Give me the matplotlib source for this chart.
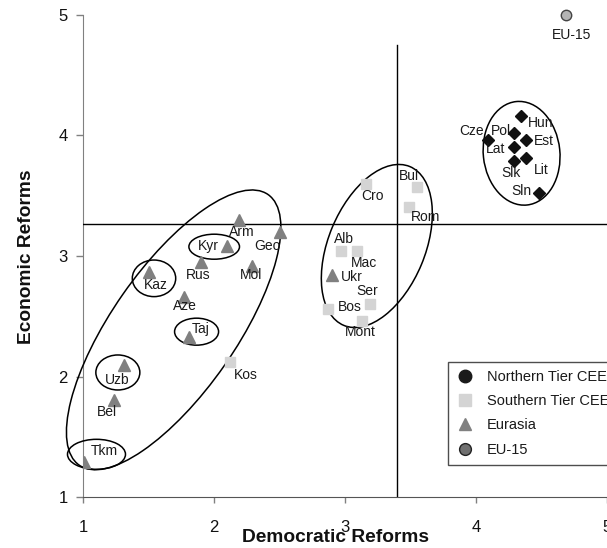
import matplotlib
matplotlib.use("Agg")
import matplotlib.pyplot as plt
import matplotlib.transforms as mtransforms
from matplotlib.patches import Ellipse
from matplotlib.lines import Line2D

plt.rcParams['font.family'] = ['Liberation Sans', 'DejaVu Sans']

# ---------------- data ----------------
north_names = ['Hun', 'Pol', 'Est', 'Cze', 'Lat', 'Slk', 'Lit', 'Sln']
north_dem = [4.34, 4.29, 4.38, 4.09, 4.29, 4.29, 4.38, 4.48]
north_eco = [4.16, 4.02, 3.96, 3.96, 3.90, 3.79, 3.81, 3.52]

south_names = ['Cro', 'Bul', 'Rom', 'Alb', 'Mac', 'Ser', 'Bos', 'Mont', 'Kos']
south_dem = [3.16, 3.55, 3.49, 2.97, 3.09, 3.19, 2.87, 3.13, 2.12]
south_eco = [3.60, 3.57, 3.41, 3.04, 3.04, 2.60, 2.56, 2.46, 2.12]

eurasia_names = ['Arm', 'Geo', 'Kyr', 'Rus', 'Mol', 'Kaz', 'Aze', 'Taj', 'Ukr', 'Uzb', 'Bel', 'Tkm']
eurasia_dem = [2.19, 2.50, 2.10, 1.90, 2.29, 1.50, 1.77, 1.81, 2.90, 1.31, 1.24, 1.01]
eurasia_eco = [3.30, 3.20, 3.08, 2.95, 2.92, 2.87, 2.66, 2.33, 2.84, 2.10, 1.81, 1.29]

eu_names = ['EU-15']
eu_dem = [4.69]
eu_eco = [5.0]

mean_dem = 3.40
mean_eco = 3.265

ticks = [1, 2, 3, 4, 5]
legend_labels = ['Northern Tier CEE', 'Southern Tier CEE', 'Eurasia', 'EU-15']

# label offsets (pixels)
label_off = {
    'Hun': (20, -7), 'Pol': (-13, 2), 'Cze': (-16, 9), 'Est': (18, -1), 'Lat': (-18, -2),
    'Lit': (15, -12), 'Slk': (-3, -12), 'Sln': (-17, 2),
    'Cro': (7, -12), 'Bul': (-8, 11), 'Rom': (16, -10), 'Alb': (3, 12), 'Mac': (7, -12),
    'Ser': (-3, 13), 'Bos': (22, 2), 'Mont': (-2, -11), 'Kos': (16, -13),
    'Arm': (3, -12), 'Geo': (-12, -14), 'Kyr': (-19, 0), 'Rus': (-3, -13), 'Mol': (-1, -9),
    'Kaz': (7, -13), 'Aze': (1, -9), 'Taj': (12, 8), 'Ukr': (20, -2), 'Uzb': (-6, -15),
    'Bel': (-8, -12), 'Tkm': (20, 11), 'EU-15': (5, -20),
}

# ---------------- figure ----------------
W, H = 607, 548
fig = plt.figure(figsize=(W / 100, H / 100), dpi=100)
ax = fig.add_axes([83 / W, 1 - 497.4 / H, (607 - 83) / W, (497.4 - 14.6) / H])
ax.set_xlim(1, 5)
ax.set_ylim(1, 5)

# reference lines
ax.axhline(mean_eco, color='black', lw=1, zorder=1)
ax.plot([mean_dem, mean_dem], [1, 4.75], color='black', lw=1, zorder=1)

# markers
ax.plot(north_dem, north_eco, linestyle='none', marker='D', ms=6.3, color='#111111', zorder=3)
ax.plot(south_dem, south_eco, linestyle='none', marker='s', ms=7.5, color='#d4d4d4', zorder=3)
ax.plot(eurasia_dem, eurasia_eco, linestyle='none', marker='^', ms=8, color='#808080', zorder=3)
ax.plot(eu_dem, eu_eco, linestyle='none', marker='o', ms=7.5, mfc='#b4b4b4', mec='#444444',
        mew=1, zorder=3, clip_on=False)

# labels
for names, xs, ys in [(north_names, north_dem, north_eco), (south_names, south_dem, south_eco),
                      (eurasia_names, eurasia_dem, eurasia_eco), (eu_names, eu_dem, eu_eco)]:
    for n, x, y in zip(names, xs, ys):
        dx, dy = label_off[n]
        ax.annotate(n, (x, y), xytext=(dx, dy), textcoords='offset pixels',
                    ha='center', va='center', fontsize=10, color='#1a1a1a',
                    annotation_clip=False, zorder=4)

# ellipses defined by data centre + pixel semi-axes
def px_ellipse(cx, cy, a, b, ang):
    tr = (mtransforms.Affine2D().scale(1 / fig.dpi) + fig.dpi_scale_trans +
          mtransforms.ScaledTranslation(cx, cy, ax.transData))
    e = Ellipse((0, 0), 2 * a, 2 * b, angle=ang, transform=tr, fill=False,
                ec='black', lw=1.1, clip_on=False, zorder=2)
    ax.add_patch(e)

px_ellipse(1.692, 2.388, 165, 62, 55.1)   # Eurasia group
px_ellipse(3.243, 3.083, 86, 48.3, 67.4)  # Southern tier group
px_ellipse(4.348, 3.851, 52, 38.3, 96)    # Northern tier group
px_ellipse(2.0015, 3.077, 25.3, 12.5, 0)  # Kyr
px_ellipse(1.542, 2.815, 21.7, 18.3, 0)   # Kaz
px_ellipse(1.867, 2.373, 22, 13.5, 0)     # Taj
px_ellipse(1.266, 2.035, 22, 17.5, 0)     # Uzb
px_ellipse(1.103, 1.357, 29, 15, 0)       # Tkm

# axes styling
for s in ['top', 'right']:
    ax.spines[s].set_visible(False)
ax.spines['left'].set_color('#808080')
ax.spines['bottom'].set_color('#555555')
ax.spines['left'].set_zorder(0)
ax.set_xticks(ticks)
ax.set_yticks(ticks)
ax.set_xticklabels([str(t) for t in ticks])
ax.set_yticklabels([str(t) for t in ticks])
ax.tick_params(axis='x', direction='out', length=4, width=1, color='#808080',
               labelsize=12, pad=12, labelcolor='#111111')
ax.tick_params(axis='y', direction='out', length=5, width=1, color='#808080',
               labelsize=12, pad=6, labelcolor='#111111')

fig.text(336 / W, 1 - 537 / H, 'Democratic Reforms', ha='center', va='center',
         fontsize=13.75, fontweight='bold', color='#111111')
fig.text(27 / W, 1 - 257 / H, 'Economic Reforms', ha='center', va='center',
         rotation=90, fontsize=13.75, fontweight='bold', color='#111111')

# legend
handles = [
    Line2D([], [], linestyle='none', marker='o', ms=9, color='#1a1a1a'),
    Line2D([], [], linestyle='none', marker='s', ms=9, color='#d4d4d4'),
    Line2D([], [], linestyle='none', marker='^', ms=9, color='#808080'),
    Line2D([], [], linestyle='none', marker='o', ms=8.5, mfc='#707070', mec='#222222', mew=1),
]
leg = fig.legend(handles, legend_labels, loc='upper left',
                 bbox_to_anchor=(448 / W, 1 - 362 / H), frameon=True, fancybox=False,
                 fontsize=10.5, handlelength=1.2, handletextpad=0.9, labelspacing=0.7,
                 borderpad=0.55, borderaxespad=0)
leg.get_frame().set_edgecolor('#222222')
leg.get_frame().set_linewidth(1)
for t in leg.get_texts():
    t.set_color('#1a1a1a')

fig.savefig('out.png', dpi=100)
